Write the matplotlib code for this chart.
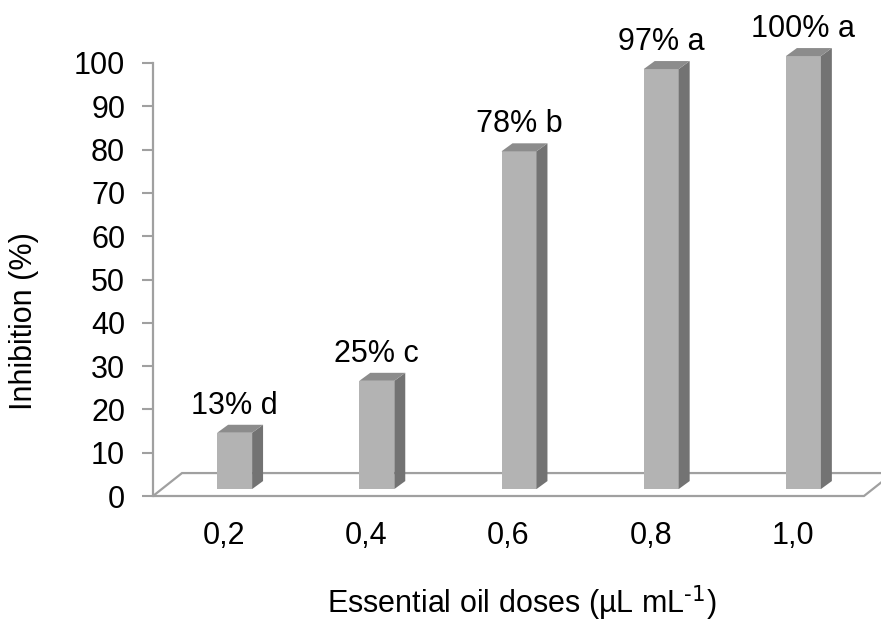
import numpy as np
import matplotlib
matplotlib.use("Agg")
import matplotlib.pyplot as plt
from matplotlib.patches import Polygon, Rectangle

plt.rcParams['font.family'] = ['Liberation Sans', 'DejaVu Sans']
plt.rcParams['mathtext.default'] = 'regular'

# data
doses = ['0,2', '0,4', '0,6', '0,8', '1,0']
inhibition = [13, 25, 78, 97, 100]
letters = ['d', 'c', 'b', 'a', 'a']

# 3d look (data units)
floor_dx, floor_dy = 0.204, 5.3
bar_shift, bar_base = 0.074, 1.6
bar_w = 0.246
bar_dx, bar_dy = 0.077, 1.85
grey = '#a0a0a0'
fs = 22

fig = plt.figure(figsize=(8.81, 6.26), dpi=100)
ax = fig.add_axes([153/881, 130/626, 711/881, 433/626])
ax.set_xlim(-0.5, 4.5)
ax.set_ylim(0, 100)

# floor
floor = Polygon([(-0.5, 0), (4.5, 0), (4.5 + floor_dx, floor_dy), (-0.5 + floor_dx, floor_dy)],
                closed=True, facecolor='white', edgecolor=grey, lw=1.6, clip_on=False, zorder=1)
ax.add_patch(floor)

for i, (v, l) in enumerate(zip(inhibition, letters)):
    x0 = i + bar_shift - bar_w/2
    b = bar_base
    front = Rectangle((x0, b), bar_w, v, facecolor='#b3b3b3', edgecolor='none', clip_on=False, zorder=3)
    side = Polygon([(x0 + bar_w, b), (x0 + bar_w + bar_dx, b + bar_dy),
                    (x0 + bar_w + bar_dx, b + v + bar_dy), (x0 + bar_w, b + v)],
                   closed=True, facecolor='#737373', edgecolor='none', clip_on=False, zorder=3)
    top = Polygon([(x0, b + v), (x0 + bar_w, b + v), (x0 + bar_w + bar_dx, b + v + bar_dy),
                   (x0 + bar_dx, b + v + bar_dy)],
                  closed=True, facecolor='#8c8c8c', edgecolor='none', clip_on=False, zorder=3)
    for p in (front, side, top):
        ax.add_patch(p)
    ax.text(i + bar_shift, v + b + 6.2, '%d%% %s' % (v, l), ha='center', va='center',
            fontsize=fs, clip_on=False, zorder=4)

ax.set_yticks(np.arange(0, 101, 10))
ax.set_xticks(range(len(doses)))
ax.set_xticklabels(doses)
ax.tick_params(axis='y', length=8, width=1.5, color=grey, pad=12, labelsize=fs)
ax.tick_params(axis='x', length=0, pad=18, labelsize=fs)
for s in ('top', 'right', 'bottom'):
    ax.spines[s].set_visible(False)
ax.spines['left'].set_color(grey)
ax.spines['left'].set_linewidth(1.6)
ax.spines['left'].set_zorder(2)
ax.patch.set_visible(False)

fig.text(24/881, 1 - 321/626, 'Inhibition (%)', rotation=90, ha='center', va='center', fontsize=fs)
fig.text(522/881, 1 - 603/626, 'Essential oil doses (µL mL$^{\\text{-1}}$)', ha='center', va='center', fontsize=fs)

fig.savefig('out.png', dpi=100)
